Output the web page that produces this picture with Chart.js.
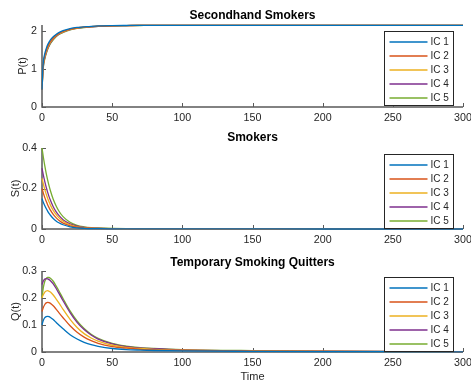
<!DOCTYPE html>
<html>
<head>
<meta charset="utf-8">
<script src="https://cdn.jsdelivr.net/npm/chart.js@4/dist/chart.umd.min.js"></script>
<style>
html,body{margin:0;padding:0;background:#fff;}
body{width:471px;height:385px;position:relative;overflow:hidden;}
canvas{position:absolute;left:0;}
</style>
</head>
<body>
<canvas id="c1" width="471" height="125" style="top:0px"></canvas>
<canvas id="c2" width="471" height="125" style="top:125px"></canvas>
<canvas id="c3" width="471" height="135" style="top:250px"></canvas>
<script>
// ---- data ----
const T = [0,0.5,1,2,3,4,5,6,8,10,12,15,20,25,30,35,40,50,60,70,80,100,150,200,250,300];
const labels = ["IC 1","IC 2","IC 3","IC 4","IC 5"];
const colors = ["#0072BD","#D95319","#EDB120","#7E2F8E","#77AC30"];
const xTicks = [0,50,100,150,200,250,300];

// Secondhand smokers P(t)
const P1 = [0.45,0.95,1.20,1.40,1.53,1.63,1.70,1.76,1.84,1.90,1.95,2.00,2.055,2.085,2.10,2.115,2.125,2.133,2.137,2.14,2.14,2.14,2.14,2.14,2.14,2.14];
const P2 = [0.45,0.90,1.15,1.35,1.48,1.58,1.66,1.72,1.81,1.88,1.93,1.98,2.04,2.075,2.095,2.11,2.12,2.13,2.135,2.14,2.14,2.14,2.14,2.14,2.14,2.14];
const P3 = [0.45,0.87,1.12,1.32,1.45,1.55,1.63,1.70,1.79,1.865,1.92,1.97,2.033,2.07,2.09,2.107,2.118,2.129,2.135,2.138,2.14,2.14,2.14,2.14,2.14,2.14];
const P4 = [0.45,0.84,1.09,1.29,1.42,1.53,1.61,1.68,1.78,1.855,1.91,1.965,2.028,2.066,2.088,2.104,2.116,2.128,2.134,2.138,2.14,2.14,2.14,2.14,2.14,2.14];
const P5 = [0.45,0.81,1.06,1.26,1.40,1.51,1.59,1.66,1.76,1.84,1.90,1.955,2.02,2.06,2.085,2.10,2.113,2.126,2.133,2.137,2.14,2.14,2.14,2.14,2.14,2.14];
const pTicks = [0,1,2];

// Smokers S(t)
const S1 = [0.15,0.14,0.131,0.115,0.101,0.088,0.077,0.068,0.052,0.040,0.031,0.021,0.011,0.006,0.0035,0.002,0.0015,0.001,0.0007,0.0005,0.0004,0.0003,0.0002,0.0001,0.0001,0.0001];
const S2 = [0.20,0.188,0.176,0.155,0.137,0.120,0.106,0.093,0.072,0.056,0.043,0.029,0.016,0.009,0.005,0.003,0.002,0.0014,0.001,0.0008,0.0006,0.0005,0.0003,0.0002,0.0001,0.0001];
const S3 = [0.25,0.235,0.221,0.195,0.172,0.152,0.134,0.118,0.092,0.072,0.056,0.038,0.021,0.011,0.007,0.004,0.003,0.0018,0.0012,0.001,0.0008,0.0006,0.0003,0.0002,0.0002,0.0001];
const S4 = [0.30,0.282,0.265,0.234,0.206,0.182,0.160,0.142,0.110,0.086,0.067,0.046,0.025,0.014,0.008,0.005,0.004,0.002,0.0015,0.001,0.001,0.0007,0.0004,0.0003,0.0002,0.0002];
const S5 = [0.40,0.376,0.353,0.312,0.275,0.243,0.214,0.189,0.147,0.115,0.089,0.061,0.033,0.018,0.011,0.007,0.005,0.003,0.002,0.0015,0.001,0.0008,0.0004,0.0003,0.0002,0.0002];
const sTicks = [0,0.2,0.4];

// Temporary smoking quitters Q(t)
const Q1 = [0.10,0.11,0.118,0.127,0.131,0.132,0.131,0.128,0.12,0.11,0.10,0.086,0.064,0.048,0.036,0.027,0.021,0.013,0.009,0.007,0.0055,0.004,0.0025,0.0015,0.001,0.0007];
const Q2 = [0.15,0.158,0.166,0.176,0.182,0.184,0.183,0.18,0.171,0.159,0.146,0.127,0.097,0.073,0.055,0.042,0.032,0.020,0.014,0.010,0.008,0.006,0.0035,0.002,0.0014,0.001];
const Q3 = [0.20,0.207,0.213,0.222,0.226,0.227,0.225,0.222,0.211,0.197,0.182,0.158,0.121,0.091,0.068,0.052,0.040,0.025,0.017,0.013,0.010,0.007,0.004,0.0025,0.0017,0.0012];
const Q4 = [0.25,0.257,0.263,0.27,0.272,0.271,0.268,0.264,0.252,0.236,0.218,0.19,0.146,0.11,0.083,0.063,0.048,0.030,0.020,0.015,0.012,0.008,0.0045,0.003,0.002,0.0014];
const Q5 = [0.20,0.222,0.24,0.262,0.272,0.276,0.276,0.273,0.262,0.245,0.227,0.198,0.152,0.115,0.087,0.066,0.051,0.032,0.022,0.016,0.013,0.009,0.005,0.003,0.002,0.0015];
const qTicks = [0,0.1,0.2,0.3];

// ---- drawing ----
const FONT = "'Liberation Sans', Arial, Helvetica, sans-serif";
const TXT = "#262626";

function axesPlugin(meta){
  return {
    id:'matlabAxes',
    beforeDatasetsDraw(chart){
      const {ctx, chartArea:a, scales} = chart;
      ctx.save();
      ctx.strokeStyle = '#5a5a5a';
      ctx.lineWidth = 1.5;
      ctx.beginPath();
      ctx.moveTo(a.left, a.top); ctx.lineTo(a.left, a.bottom); ctx.lineTo(a.right, a.bottom);
      ctx.stroke();
      ctx.lineWidth = 1;
      ctx.beginPath();
      xTicks.forEach(v=>{const x=Math.round(scales.x.getPixelForValue(v))+0.5; ctx.moveTo(x,a.bottom); ctx.lineTo(x,a.bottom-4);});
      meta.yTicks.forEach(v=>{const y=Math.round(scales.y.getPixelForValue(v))+0.5; ctx.moveTo(a.left,y); ctx.lineTo(a.left+4,y);});
      ctx.stroke();
      ctx.restore();
    },
    afterDraw(chart){
      const {ctx, chartArea:a} = chart;
      ctx.save();
      // title
      ctx.fillStyle = '#000';
      ctx.font = "bold 12px " + FONT;
      ctx.textAlign = 'center'; ctx.textBaseline = 'middle';
      ctx.fillText(meta.title, (a.left+a.right)/2, a.top - meta.titleOff);
      // y label
      ctx.fillStyle = TXT;
      ctx.font = "11px " + FONT;
      ctx.save();
      ctx.translate(meta.ylabelX, (a.top+a.bottom)/2);
      ctx.rotate(-Math.PI/2);
      ctx.fillText(meta.ylabel, 0, 0);
      ctx.restore();
      if (meta.xlabel){
        ctx.fillText(meta.xlabel, (a.left+a.right)/2, a.bottom + meta.xlabelOff);
      }
      // legend
      const bw = 69, bh = 74;
      const bx = Math.round(a.right - 10 - bw) + 0.5, by = Math.round(a.top + 6) + 0.5;
      ctx.fillStyle = '#fff';
      ctx.fillRect(bx, by, bw, bh);
      ctx.strokeStyle = '#262626'; ctx.lineWidth = 1;
      ctx.strokeRect(bx, by, bw, bh);
      ctx.font = "10px " + FONT;
      ctx.textAlign = 'left'; ctx.textBaseline = 'middle';
      chart.data.datasets.forEach((ds,i)=>{
        const y = by + 10.5 + i*14;
        ctx.strokeStyle = ds.borderColor; ctx.lineWidth = 1.3;
        ctx.beginPath(); ctx.moveTo(bx+5, y); ctx.lineTo(bx+43, y); ctx.stroke();
        ctx.fillStyle = TXT;
        ctx.fillText(ds.label, bx+46, y+0.5);
      });
      ctx.restore();
    }
  };
}

function build(id, series, meta){
  const datasets = series.map((arr,i)=>({
    label: labels[i],
    data: T.map((t,k)=>({x:t, y:arr[k]})),
    borderColor: colors[i],
    backgroundColor: colors[i],
    borderWidth: 1.3,
    pointRadius: 0,
    fill: false,
    clip: 4,
    cubicInterpolationMode: 'monotone'
  }));
  const tickFont = {family: FONT, size: 10.7};
  new Chart(document.getElementById(id), {
    type: 'line',
    data: {datasets},
    options: {
      responsive: false,
      animation: false,
      devicePixelRatio: 1,
      layout: {padding: {top: meta.padTop, right: 8, left: 0, bottom: 0}},
      plugins: {legend: {display:false}, tooltip: {enabled:false}, title: {display:false}},
      scales: {
        x: {
          type: 'linear', min: 0, max: 300,
          grid: {display:false, drawTicks:false},
          border: {display:false},
          ticks: {color: TXT, font: tickFont, padding: 5, maxRotation: 0, autoSkip: false},
          afterBuildTicks(s){ s.ticks = xTicks.map(v=>({value:v})); },
          afterFit(s){ s.height = meta.xh; s.paddingLeft = 0; s.paddingRight = 0; }
        },
        y: {
          type: 'linear', min: 0, max: meta.yMax,
          grid: {display:false, drawTicks:false},
          border: {display:false},
          ticks: {color: TXT, font: tickFont, padding: 5, callback: v => String(v)},
          afterBuildTicks(s){ s.ticks = meta.yTicks.map(v=>({value:v})); },
          afterFit(s){ s.width = 42; s.paddingTop = 0; s.paddingBottom = 0; }
        }
      }
    },
    plugins: [axesPlugin(meta)]
  });
}

build('c1', [P1,P2,P3,P4,P5], {title:'Secondhand Smokers', ylabel:'P(t)', ylabelX:23, yTicks:pTicks, yMax:2.15, padTop:25, xh:18, titleOff:9});
build('c2', [S1,S2,S3,S4,S5], {title:'Smokers', ylabel:'S(t)', ylabelX:16, yTicks:sTicks, yMax:0.4, padTop:23, xh:21, titleOff:10});
build('c3', [Q1,Q2,Q3,Q4,Q5], {title:'Temporary Smoking Quitters', ylabel:'Q(t)', ylabelX:16, yTicks:qTicks, yMax:0.3, padTop:21, xh:33, titleOff:8.5, xlabel:'Time', xlabelOff:24.5});
</script>
</body>
</html>
